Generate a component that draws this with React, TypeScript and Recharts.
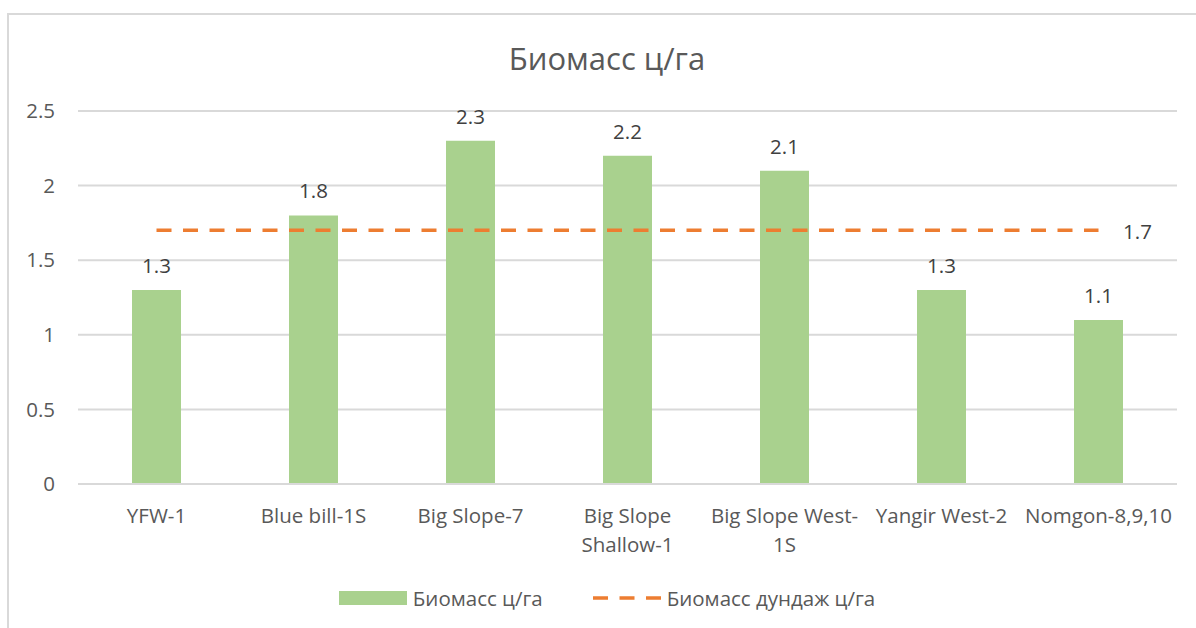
import React from 'react';
import { ComposedChart, Bar, Line, XAxis, YAxis, CartesianGrid, Legend, LabelList } from 'recharts';

const categories = ['YFW-1', 'Blue bill-1S', 'Big Slope-7', 'Big Slope Shallow-1', 'Big Slope West-1S', 'Yangir West-2', 'Nomgon-8,9,10'];
const tickLines = [['YFW-1'], ['Blue bill-1S'], ['Big Slope-7'], ['Big Slope', 'Shallow-1'], ['Big Slope West-', '1S'], ['Yangir West-2'], ['Nomgon-8,9,10']];
const biomass = [1.3, 1.8, 2.3, 2.2, 2.1, 1.3, 1.1];
const average = [1.7, 1.7, 1.7, 1.7, 1.7, 1.7, 1.7];
const yTicks = [0, 0.5, 1, 1.5, 2, 2.5];
const seriesNames = ['Биомасс ц/га', 'Биомасс дундаж ц/га'];
const title = 'Биомасс ц/га';

const data = categories.map((c, i) => ({ name: c, biomass: biomass[i], average: average[i] }));

const FONT = '"Open Sans", "Noto Sans", sans-serif';
const TEXT = '#595959';
const BAR = '#A9D18E';
const LINE = '#ED7D31';
const GRID = '#D9D9D9';

const XTick = (props: any) => {
  const { x, y, index } = props;
  const lines = tickLines[index] || [props.payload.value];
  return (
    <text x={x} y={y} textAnchor="middle" fill={TEXT} fontSize={20.5} fontFamily={FONT}>
      {lines.map((l: string, i: number) => (
        <tspan key={i} x={x} y={y + 39 + i * 29}>{l}</tspan>
      ))}
    </text>
  );
};

const LineLabel = (props: any) => {
  const { x, y, index, value } = props;
  if (index !== average.length - 1) return null;
  return (
    <text x={x + 39} y={y + 9} textAnchor="middle" fill="#404040" fontSize={20.5} fontFamily={FONT}>
      {value}
    </text>
  );
};

const legendItems = [
  { value: seriesNames[0], type: 'rect' },
  { value: seriesNames[1], type: 'line' },
];

const LegendContent = () => {
  return (
    <div style={{ display: 'flex', justifyContent: 'center', alignItems: 'center', fontFamily: FONT, fontSize: 20.5, color: TEXT, height: 30 }}>
      {legendItems.map((p, i) => (
        <div key={i} style={{ display: 'flex', alignItems: 'center', marginLeft: i > 0 ? 50 : 0 }}>
          <svg width={68} height={16} style={{ marginRight: 6 }}>
            {p.type === 'rect' ? (
              <rect x={0} y={1} width={68} height={14} fill={BAR} />
            ) : (
              <line x1={0} y1={8} x2={68} y2={8} stroke={LINE} strokeWidth={3.5} strokeDasharray="15 11.5" />
            )}
          </svg>
          <span>{p.value}</span>
        </div>
      ))}
    </div>
  );
};

export default function App() {
  return (
    <>
      <style>{`body{overflow:hidden}`}</style>
      <div style={{ position: 'absolute', left: 7, top: 13, width: 1220, height: 640, border: `2px solid ${GRID}`, boxSizing: 'border-box' }} />
      <div style={{ position: 'absolute', left: 7, top: 36, width: 1200, textAlign: 'center', fontFamily: FONT, fontSize: 31, color: TEXT, lineHeight: '44px' }}>
        {title}
      </div>
      <div style={{ position: 'absolute', left: 0, top: 0 }}>
        <ComposedChart width={1196} height={628} data={data} margin={{ top: 111, right: 19, left: 0, bottom: 0 }} barCategoryGap="0%">
          <CartesianGrid vertical={false} stroke={GRID} strokeWidth={2} />
          <XAxis dataKey="name" axisLine={{ stroke: GRID, strokeWidth: 2 }} tickLine={false} tickSize={0} tickMargin={0} height={114} interval={0} tick={<XTick />} />
          <YAxis domain={[0, 2.5]} ticks={yTicks} width={78} axisLine={false} tickLine={false} tickSize={0} tickMargin={23} tick={{ fill: TEXT, fontSize: 20.5, fontFamily: FONT }} />
          <Legend
            verticalAlign="bottom"
            content={<LegendContent />}
            wrapperStyle={{ position: 'absolute', top: 583, bottom: 'auto', left: 7, width: 1200, height: 30 }}
          />
          <Bar dataKey="biomass" name={seriesNames[0]} fill={BAR} barSize={49} isAnimationActive={false}>
            <LabelList dataKey="biomass" position="top" offset={17} fill="#404040" fontSize={20.5} fontFamily={FONT} />
          </Bar>
          <Line dataKey="average" name={seriesNames[1]} stroke={LINE} strokeWidth={3.5} strokeDasharray="15 11.5" dot={false} activeDot={false} isAnimationActive={false}>
            <LabelList dataKey="average" content={<LineLabel />} />
          </Line>
        </ComposedChart>
      </div>
    </>
  );
}
